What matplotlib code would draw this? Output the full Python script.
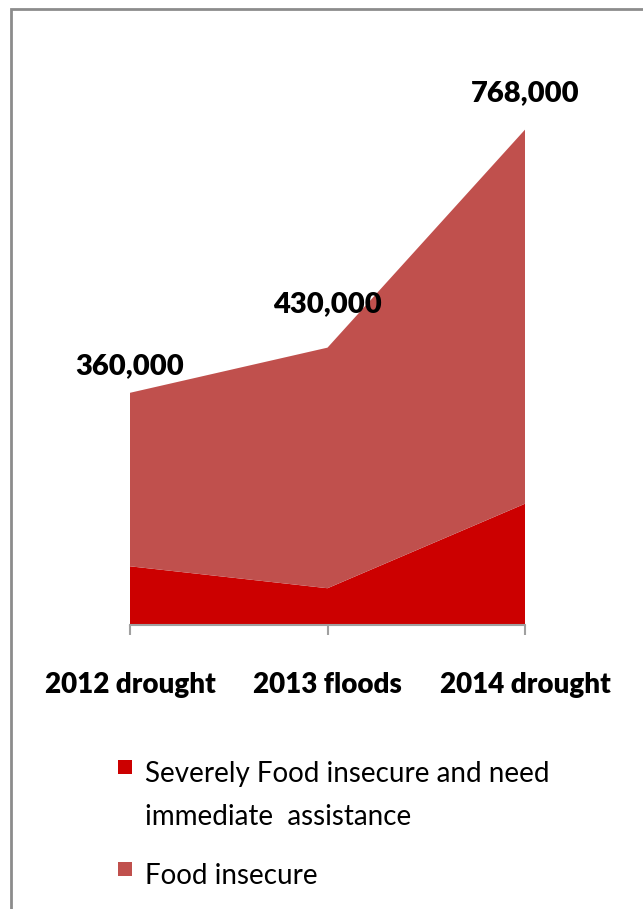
import matplotlib.pyplot as plt
import matplotlib.patches as mpatches
import numpy as np

# data
events = ['2012 drought', '2013 floods', '2014 drought']
severe = [91000, 57000, 188000]
food_insecure = [269000, 373000, 580000]
totals = ['360,000', '430,000', '768,000']
series_names = ['Severely Food insecure and need\nimmediate  assistance', 'Food insecure']
label_offsets = [10, 22, 17]   # Excel placed the labels at slightly different heights

sev_color = '#CC0000'
fi_color = '#C0504D'

plt.rcParams['font.family'] = ['Lato', 'DejaVu Sans']

fig = plt.figure(figsize=(6.43, 9.09), dpi=100)
ax = fig.add_axes([130 / 643, 284 / 909, 395 / 643, 516 / 909])

x = np.arange(len(events))
polys = ax.stackplot(x, severe, food_insecure, colors=[sev_color, fi_color])

ax.set_xlim(0, 2)
ax.set_ylim(0, 800000)
ax.set_yticks([])
for s in ['top', 'right', 'left']:
    ax.spines[s].set_visible(False)
ax.spines['bottom'].set_color('#A0A0A0')
ax.spines['bottom'].set_linewidth(1.5)
ax.set_xticks(x)
ax.set_xticklabels(events, fontsize=20, fontweight='heavy')
ax.tick_params(axis='x', length=7, width=1.5, color='#A0A0A0', pad=27)

# data labels over the top of each stack
for xi, s, f, lab, off in zip(x, severe, food_insecure, totals, label_offsets):
    ax.annotate(lab, (xi, s + f), xytext=(0, off), textcoords='offset points',
                ha='center', va='bottom', fontsize=21, fontweight='heavy',
                annotation_clip=False)

# legend drawn by hand so the marker sits on the first line, like Excel does
W, H = 643, 909
for poly, name, top in zip(polys, series_names, [760, 862]):
    fig.patches.append(mpatches.Rectangle((118 / W, 1 - (top + 14) / H), 14 / W, 14 / H,
                                          transform=fig.transFigure,
                                          facecolor=poly.get_facecolor()[0], edgecolor='none'))
    fig.text(145 / W, 1 - (top + 1) / H, name, ha='left', va='top', fontsize=20,
             linespacing=1.8)

# outer gray frame
fig.patches.append(mpatches.Rectangle((11 / W, -0.1), 1.2, 1 - 9 / H + 0.1,
                                      transform=fig.transFigure, fill=False,
                                      edgecolor='#8C8C8C', linewidth=2))

fig.savefig('out.png', dpi=100)
